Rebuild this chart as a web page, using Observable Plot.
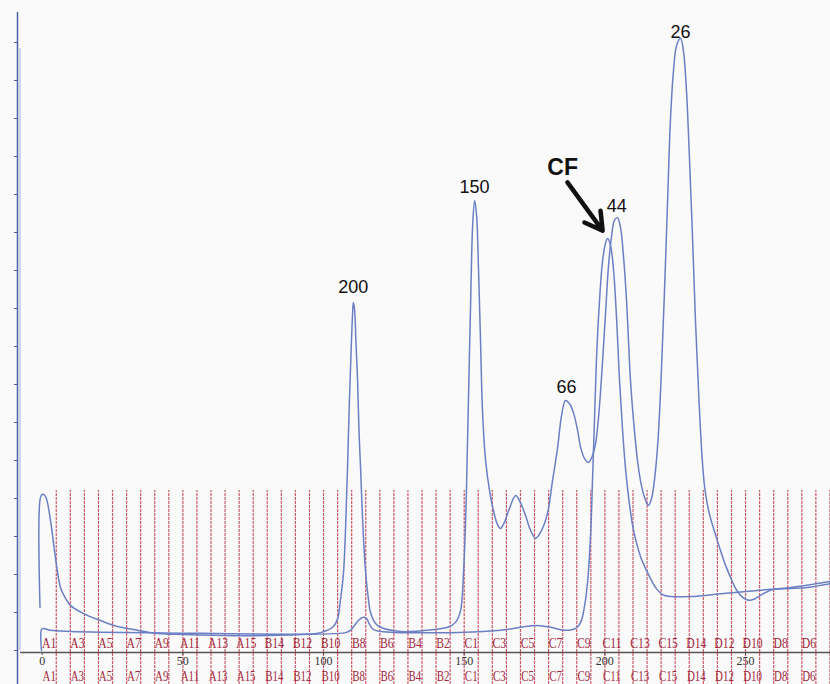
<!DOCTYPE html>
<html><head><meta charset="utf-8">
<script src="https://cdn.jsdelivr.net/npm/d3@7"></script>
<script src="https://cdn.jsdelivr.net/npm/@observablehq/plot@0.6"></script>
<style>html,body{margin:0;padding:0;background:#fafafa;overflow:hidden}</style>
</head><body><div id="chart"></div>
<script>
// Elution volume (x) and absorbance (y, arbitrary units) of the standards run
const standardX = [-0.78,-0.6,0.1,1.2,2.95,4.7,6.5,8.3,10.1,14.7,20.7,26.8,32.5,41.0,50.2,68.0,91.8,98.9,103.5,105.0,106.0,107.1,107.8,108.5,109.2,109.8,110.3,110.6,111.0,111.5,112.1,112.6,113.2,113.9,114.9,116.0,116.7,118.5,120.3,127.4,139.1,144.1,146.9,148.7,149.8,150.8,151.5,152.3,153.0,153.7,154.4,155.1,155.8,156.5,157.6,159.0,160.4,161.8,162.9,164.3,165.8,168.3,170.0,171.8,173.6,175.4,177.5,179.6,181.4,183.2,184.6,186.0,187.4,188.9,190.3,191.4,192.8,194.2,195.6,196.7,197.8,199.2,200.3,201.3,202.4,203.4,204.5,205.6,206.6,207.7,209.1,210.2,211.6,213.0,214.5,215.5,216.6,218.0,219.1,220.1,221.2,222.3,223.3,224.4,225.5,226.9,227.9,229.0,230.1,231.2,232.2,233.3,234.4,235.4,236.5,237.6,239.4,241.1,242.9,244.7,246.5,248.2,251.1,253.6,255.3,257.8,260.0,266.0,272.0,280.2];
const standardY = [11.3,40.3,41.1,40.5,34.2,24.5,16.6,13.7,11.8,9.7,7.9,6.3,5.5,4.5,4.2,3.9,4.2,4.7,6.3,8.4,13.2,20.5,31.6,47.4,65.8,78.9,88.2,91.6,90.0,81.6,71.1,57.9,47.4,34.2,21.1,13.2,10.0,7.1,6.1,5.0,5.5,6.1,7.4,10.5,21.1,42.1,65.8,92.1,111.8,118.4,114.5,100.0,81.6,63.2,50.0,42.1,36.8,33.2,32.1,33.7,36.8,40.8,38.9,35.5,31.6,29.5,31.6,36.1,44.7,53.4,61.8,65.8,65.0,62.4,57.9,53.4,50.5,49.5,51.3,54.5,61.8,76.3,89.5,101.3,109.2,113.2,113.9,111.1,103.9,92.1,71.1,60.5,50.0,43.4,39.5,38.2,40.0,47.4,57.9,73.7,94.7,118.4,139.5,152.6,159.2,161.1,157.9,147.4,128.9,107.9,86.8,68.4,52.6,43.4,38.2,34.7,30.3,26.3,22.4,19.2,16.3,14.5,13.2,13.7,14.5,15.5,16.1,16.3,16.6,17.6];

// CF sample run
const sampleX = [-0.25,-0.25,0.5,2.9,10.1,38.5,107.8,109.6,111.0,112.4,113.9,115.3,116.4,117.8,120.3,145.1,162.9,170.0,175.4,180.7,186.0,189.6,191.4,192.8,193.9,195.0,195.6,196.3,197.0,198.1,199.2,200.3,201.0,202.0,203.1,204.2,205.2,206.3,207.4,208.8,210.2,212.7,215.5,218.0,220.5,223.4,230.5,242.2,254.3,266.0,280.2];
const sampleY = [0,5.5,5.8,5.3,5.0,4.7,4.7,5.3,6.6,7.9,8.7,8.4,6.8,5.5,5.0,4.7,5.3,6.1,6.6,6.1,5.3,5.8,7.4,11.8,18.4,31.6,44.7,60.5,76.3,92.1,102.6,107.4,108.4,106.6,100.0,86.8,71.1,57.9,47.4,38.2,31.6,24.7,20.0,16.6,14.7,14.2,14.2,15.0,15.8,16.6,18.2];

// Fraction collector wells (5 units per fraction)
const fractionNames = ["A1","A2","A3","A4","A5","A6","A7","A8","A9","A10","A11","A12","A13","A14","A15",
  "B15","B14","B13","B12","B11","B10","B9","B8","B7","B6","B5","B4","B3","B2","B1",
  "C1","C2","C3","C4","C5","C6","C7","C8","C9","C10","C11","C12","C13","C14","C15",
  "D15","D14","D13","D12","D11","D10","D9","D8","D7","D6","D5"];
const fractionWidth = 5;

const xTicks = [0, 50, 100, 150, 200, 250];
const yTicks = [0,10,20,30,40,50,60,70,80,90,100,110,120,130,140,150,160];

// Peak annotations (molecular mass markers, kDa)
const peakLabels = ["200", "150", "66", "44", "26"];
const peakLabelX = [110.6, 153.7, 186.4, 204.2, 226.9];
const peakLabelY = [95.5, 121.8, 69.2, 116.8, 162.6];
const cfLabel = "CF";
const cfLabelX = [185.0];
const cfLabelY = [127.1];
const cfArrowX = [186.7, 199.2];
const cfArrowY = [123.2, 110.5];

const standard = standardX.map((x, i) => ({x, y: standardY[i]}));
const sample = sampleX.map((x, i) => ({x, y: sampleY[i]}));
const fractionStarts = fractionNames.map((d, i) => ({x: (i + 1) * fractionWidth}));
const fractionLabels = fractionNames.map((name, i) => ({name, x: i * fractionWidth + fractionWidth / 2})).filter((d, i) => i % 2 === 0);
const peaks = peakLabels.map((label, i) => ({label, x: peakLabelX[i], y: peakLabelY[i]}));

const blue = "#6b7fc4";
const red = "#cc5a68";
const redText = "#a3283a";

const chart = Plot.plot({
  width: 830, height: 684,
  marginLeft: 17, marginRight: 0, marginTop: 10, marginBottom: 32,
  x: {domain: [-8.78, 280.2]},
  y: {domain: [-0.53, 168.42]},
  style: {background: "#fafafa", fontFamily: "Liberation Serif"},
  marks: [
    // fraction boundaries
    Plot.ruleX(fractionStarts, {x: "x", y1: -8.95, y2: 42.1, stroke: red, strokeWidth: 1.2, strokeDasharray: "3,1"}),
    Plot.text(fractionLabels, {x: "x", y: 2.0, text: "name", fill: redText, fontSize: 15, fontFamily: "Liberation Serif"}),
    Plot.text(fractionLabels, {x: "x", y: -6.95, text: "name", fill: redText, fontSize: 14, fontFamily: "Liberation Serif"}),
    // axes
    Plot.ruleY([-0.53], {x1: -7.7, x2: 280.2, stroke: "#555", strokeWidth: 1.5}),
    Plot.axisX(xTicks, {tickSize: 3, tickPadding: 1, fontSize: 12, fontFamily: "Liberation Serif", fill: "#333", stroke: "#555", label: null}),
    Plot.ruleX([-8.78], {y1: -8.95, y2: 167.9, stroke: "#4a5fa8", strokeWidth: 1.5}),
    Plot.ruleX([-7.9], {y1: 0, y2: 158.4, stroke: "#6b7fc4", strokeWidth: 1, strokeOpacity: 0.6}),
    Plot.axisY(yTicks, {tickSize: 3, tickFormat: () => "", stroke: "#4a5fa8", label: null}),
    // traces
    Plot.line(sample, {x: "x", y: "y", stroke: blue, strokeWidth: 1.5, curve: "catmull-rom"}),
    Plot.line(standard, {x: "x", y: "y", stroke: blue, strokeWidth: 1.5, curve: "catmull-rom"}),
    // annotations
    Plot.text(peaks, {x: "x", y: "y", text: "label", fontSize: 18, fontFamily: "Liberation Sans", fill: "#111"}),
    Plot.text([cfLabel], {x: cfLabelX, y: cfLabelY, text: d => d, fontSize: 23, fontWeight: "bold", fontFamily: "Liberation Sans", fill: "#111"}),
    Plot.arrow([0], {x1: cfArrowX[0], y1: cfArrowY[0], x2: cfArrowX[1], y2: cfArrowY[1], stroke: "#111", strokeWidth: 4.5, headLength: 14})
  ]
});
// condense the fraction-well labels horizontally, as in the original print
d3.select(chart).selectAll(`g[fill="${redText}"] text`).each(function() {
  const t = this.getAttribute("transform") || "";
  this.setAttribute("transform", t + " scale(0.78,1)");
});
document.getElementById("chart").appendChild(chart);
</script>
</body></html>
